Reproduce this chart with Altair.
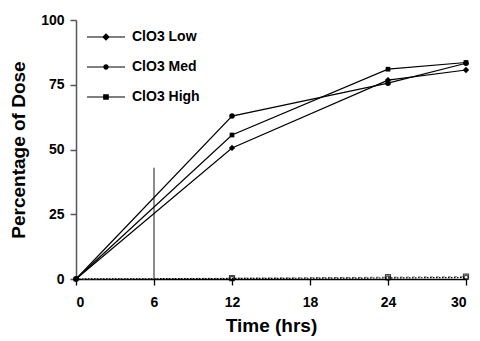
import altair as alt
import pandas as pd

hours = [0, 12, 24, 30]
series_names = ["ClO3 Low", "ClO3 Med", "ClO3 High"]
low = [0, 50.6, 76.8, 80.7]
med = [0, 62.9, 75.6, 83.3]
high = [0, 55.6, 81.0, 83.6]
ctrl_a = [0, 0.3, 0.7, 0.9]
ctrl_b = [0, 0.2, 0.4, 0.6]
marker_line_x = [6]
marker_line_top = [43]
x_ticks = [0, 6, 12, 18, 24, 30]
x_minor = [3, 9, 15, 21, 27]
y_ticks = [0, 25, 50, 75, 100]

rows = []
for name, vals in zip(series_names, [low, med, high]):
    for h, v in zip(hours, vals):
        rows.append({"series": name, "time": h, "pct": v})
df = pd.DataFrame(rows)

crows = []
for name, vals in zip(["Ctrl A", "Ctrl B"], [ctrl_a, ctrl_b]):
    for h, v in zip(hours, vals):
        crows.append({"series": name, "time": h, "pct": v})
cdf = pd.DataFrame(crows)

vdf = pd.DataFrame({"time": marker_line_x, "top": marker_line_top, "bottom": [0]})

FONT = "Liberation Sans"

x_scale = alt.Scale(domain=[0, 30], nice=False, zero=False)
y_scale = alt.Scale(domain=[0, 100], nice=False)

x_axis = alt.Axis(
    values=x_ticks + x_minor,
    labelExpr="datum.value % 6 === 0 ? datum.label : ''",
    tickSize={"condition": {"test": "datum.value % 6 === 0", "value": 6}, "value": 4},
    title="Time (hrs)",
    grid=False,
    domainColor="black",
    tickColor="black",
    domainWidth=1.3,
    tickWidth=1.3,
    labelFont=FONT, labelFontWeight="bold", labelFontSize=14, labelColor="black",
    labelPadding=10,
    titleFont=FONT, titleFontWeight="bold", titleFontSize=19, titleColor="black",
    titlePadding=7,
)
y_axis = alt.Axis(
    values=y_ticks,
    title="Percentage of Dose",
    grid=False,
    domainColor="#555555",
    tickColor="#555555",
    domainWidth=1.5,
    tickWidth=1.5,
    tickSize=6,
    labelFont=FONT, labelFontWeight="bold", labelFontSize=14, labelColor="black",
    labelPadding=6,
    titleFont=FONT, titleFontWeight="bold", titleFontSize=19, titleColor="black",
    titlePadding=12,
)

base = alt.Chart(df).encode(
    x=alt.X("time:Q", scale=x_scale, axis=x_axis),
    y=alt.Y("pct:Q", scale=y_scale, axis=y_axis),
)

lines = base.mark_line(color="black", strokeWidth=1.2).encode(detail="series:N")
points = base.mark_point(filled=True, color="black", opacity=1).encode(
    shape=alt.Shape("series:N", scale=alt.Scale(domain=series_names,
                                                range=["diamond", "circle", "square"]), legend=None),
    size=alt.Size("series:N", scale=alt.Scale(domain=series_names, range=[40, 22, 30]), legend=None),
)

bar = "M-1,-0.032L1,-0.032L1,0.032L-1,0.032Z"
paths = [
    bar + "M0,-0.2L0.2,0L0,0.2L-0.2,0Z",
    bar + "M-0.14,0A0.14,0.14,0,1,1,0.14,0A0.14,0.14,0,1,1,-0.14,0Z",
    bar + "M-0.15,-0.15L0.15,-0.15L0.15,0.15L-0.15,0.15Z",
]
legend_layer = base.mark_point(filled=True, color="black", opacity=0).encode(
    shape=alt.Shape("series:N", scale=alt.Scale(domain=series_names, range=paths),
                    legend=alt.Legend(
                        title=None, orient="none", legendX=10, legendY=-3,
                        symbolSize=1444, symbolOpacity=1, symbolFillColor="black",
                        labelFont=FONT, labelFontWeight="bold", labelFontSize=14,
                        labelColor="black", labelOffset=6, rowPadding=3,
                        labelLimit=200)),
)

cbase = alt.Chart(cdf).encode(
    x=alt.X("time:Q", scale=x_scale, axis=x_axis),
    y=alt.Y("pct:Q", scale=y_scale, axis=y_axis),
)
ca_line = cbase.transform_filter(alt.datum.series == "Ctrl A").mark_line(
    color="#777777", strokeWidth=1, strokeDash=[3, 3])
cb_line = cbase.transform_filter(alt.datum.series == "Ctrl B").mark_line(
    color="black", strokeWidth=1.2, strokeDash=[1.5, 1.5])
ca_pts = cbase.transform_filter((alt.datum.series == "Ctrl A") & (alt.datum.time > 0)).mark_point(
    shape="square", filled=False, color="black", size=25, strokeWidth=1.2)
cb_pts = cbase.transform_filter((alt.datum.series == "Ctrl B") & (alt.datum.time > 0)).mark_point(
    shape="circle", filled=False, color="black", size=18, strokeWidth=1.2)

vline = alt.Chart(vdf).mark_rule(color="#666666", strokeWidth=1.5).encode(
    x=alt.X("time:Q", scale=x_scale),
    y=alt.Y("bottom:Q", scale=y_scale),
    y2="top:Q",
)

chart = alt.layer(
    vline, ca_line, cb_line, lines, points, ca_pts, cb_pts, legend_layer
).resolve_scale(shape="independent", size="independent").properties(
    width=390, height=259,
    autosize=alt.AutoSizeParams(type="none"),
    padding={"left": 68, "top": 12, "right": 6, "bottom": 58},
).configure_view(stroke=None)

chart.save("out.html", embed_options={"renderer": "svg", "actions": False})
